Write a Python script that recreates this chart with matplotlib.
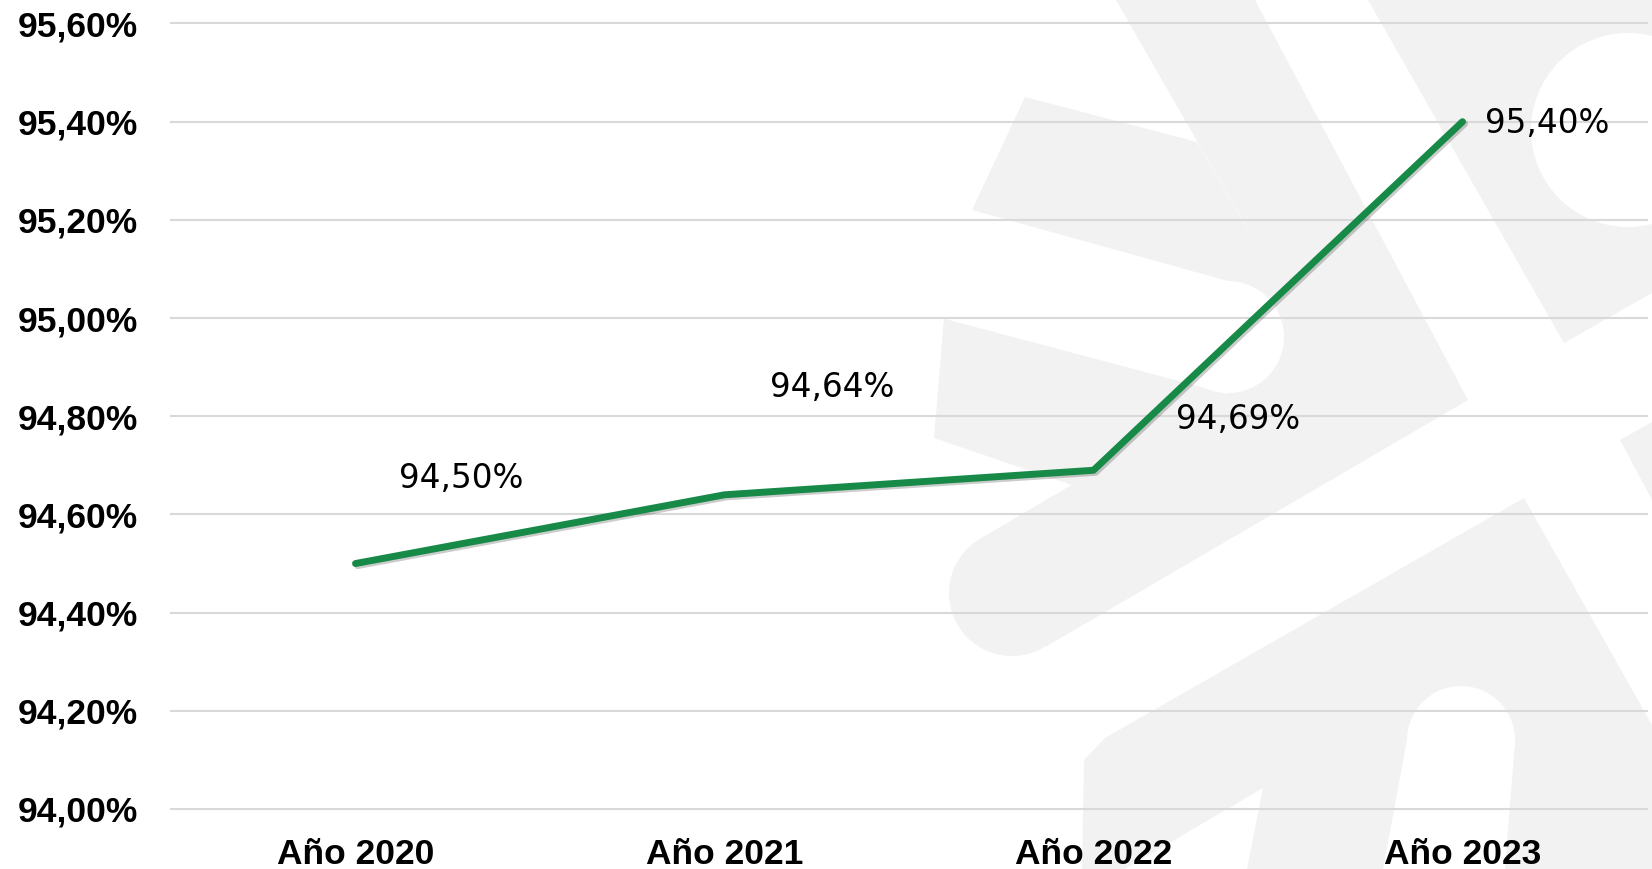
import numpy as np
import matplotlib
matplotlib.use('Agg')
from matplotlib import pyplot as plt
from matplotlib import patches, transforms
from matplotlib import patheffects as pe

# data
years = ['Año 2020', 'Año 2021', 'Año 2022', 'Año 2023']
values = [94.50, 94.64, 94.69, 95.40]
yticks = [94.00, 94.20, 94.40, 94.60, 94.80, 95.00, 95.20, 95.40, 95.60]

# where each data label sits relative to its point (pixels, right / up)
label_offsets = [(106, 85), (108, 107), (145, 51), (85, -2)]

W, H, DPI = 1652, 869, 100
GREEN = '#178a48'
WM = '#f2f2f2'


def pct(v):
    return ('%.2f%%' % v).replace('.', ',')


def add_watermark(fig):
    # light logo in the background, drawn in pixel coords (y from top)
    tr = transforms.Affine2D().scale(1, -1).translate(0, H).scale(1.0 / DPI) + fig.dpi_scale_trans
    gray_polys = [
        [(1116, 0), (1255, 0), (1468, 400), (1047, 646), (978, 540), (1313, 343)],
        [(1368, 0), (1652, 0), (1652, 293), (1564, 343)],
        [(1025, 97), (1197, 142), (1313, 343), (1072, 485), (934, 438), (944, 319), (972, 210)],
        [(1082, 869), (1084, 760), (1105, 738), (1524, 498), (1652, 725), (1652, 869),
         (1247, 869), (1263, 788), (1125, 869)],
        [(1620, 440), (1652, 422), (1652, 500)],
    ]
    gray_circles = [((1012, 593), 63)]
    white_polys = [
        [(900, 190), (1228, 281), (1228, 394), (900, 307)],
        [(1383, 869), (1407, 740), (1515, 740), (1505, 869)],
    ]
    white_circles = [((1228, 337), 56), ((1461, 740), 54), ((1628, 130), 97)]

    for p in gray_polys:
        fig.patches.append(patches.Polygon(p, closed=True, fc=WM, ec='none',
                                           transform=tr, zorder=-3))
    for c, r in gray_circles:
        fig.patches.append(patches.Circle(c, r, fc=WM, ec='none', transform=tr, zorder=-3))
    for p in white_polys:
        fig.patches.append(patches.Polygon(p, closed=True, fc='white', ec='none',
                                           transform=tr, zorder=-2))
    for c, r in white_circles:
        fig.patches.append(patches.Circle(c, r, fc='white', ec='none', transform=tr, zorder=-2))


fig = plt.figure(figsize=(W / DPI, H / DPI), dpi=DPI)
fig.patch.set_facecolor('white')
add_watermark(fig)

ax = fig.add_axes([171 / W, 60 / H, (1647 - 171) / W, (809 - 23.5) / H])
ax.patch.set_visible(False)

x = np.arange(len(years))
ax.plot(x, values, color=GREEN, lw=5, solid_capstyle='round', zorder=3,
        path_effects=[pe.SimpleLineShadow(offset=(1.5, -1.5), shadow_color='k', alpha=0.2),
                      pe.Normal()])

for xi, v, off in zip(x, values, label_offsets):
    ax.annotate(pct(v), (xi, v), xytext=off, textcoords='offset pixels',
                ha='center', va='center', fontsize=23.5, family='DejaVu Sans',
                color='black', zorder=4)

ax.set_xlim(-0.5, 3.5)
ax.set_ylim(94.0, 95.6)
ax.set_xticks(x)
ax.set_xticklabels(years)
ax.set_yticks(yticks)
ax.set_yticklabels([pct(t) for t in yticks])

for lab in ax.get_xticklabels() + ax.get_yticklabels():
    lab.set_fontfamily('Liberation Sans')
    lab.set_fontweight('bold')
    lab.set_fontsize(25.5)
    lab.set_color('black')

ax.tick_params(axis='both', length=0)
ax.tick_params(axis='y', pad=24)
ax.tick_params(axis='x', pad=21)

ax.set_axisbelow(True)
ax.yaxis.grid(True, color='#d9d9d9', lw=1.5)
for gl in ax.get_ygridlines():
    gl.set_clip_on(False)
for s in ax.spines.values():
    s.set_visible(False)

fig.savefig('out.png', dpi=DPI)
